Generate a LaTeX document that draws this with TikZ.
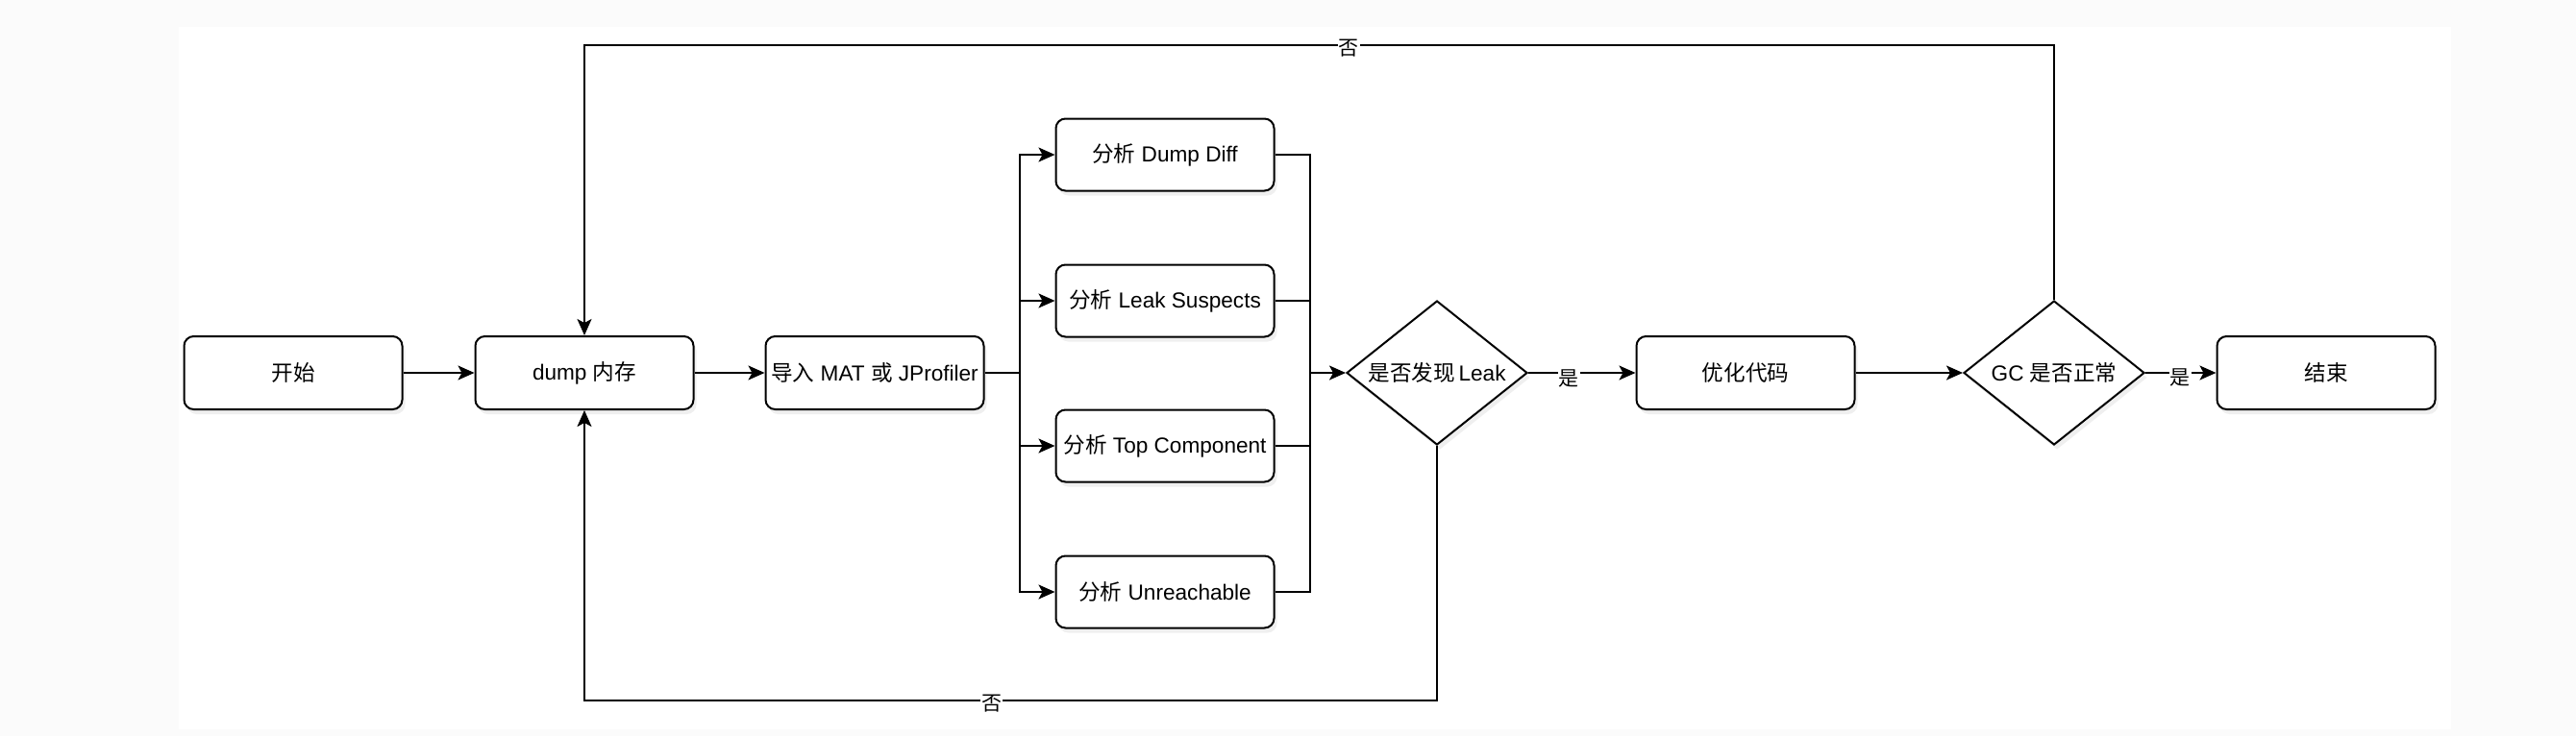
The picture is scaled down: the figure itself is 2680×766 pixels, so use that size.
\documentclass[tikz,border=0pt]{standalone}
\usepackage{fontspec}
\setmainfont{Liberation Sans}
\newfontfamily\cjk{Noto Sans CJK SC}
\usetikzlibrary{shapes.geometric,arrows.meta,shadows}
\definecolor{outerbg}{HTML}{FBFBFB}
\tikzset{
  box/.style={draw=black, line width=2pt, rounded corners=10pt, fill=white,
    minimum width=227pt, minimum height=76pt, inner sep=2pt,
    drop shadow={opacity=0.12, shadow xshift=3pt, shadow yshift=-5pt},
    font=\fontsize{22.6pt}{27pt}\selectfont},
  decision/.style={draw=black, line width=2pt, diamond, fill=white, aspect=1.25,
    minimum width=188pt, minimum height=150pt, inner sep=0pt,
    drop shadow={opacity=0.12, shadow xshift=3pt, shadow yshift=-5pt},
    font=\fontsize{22.6pt}{27pt}\selectfont},
  conn/.style={draw=black, line width=2pt},
  arr/.style={conn, -{Stealth[length=17pt, width=15pt, inset=4pt]}},
  lab/.style={fill=white, inner sep=1pt, font=\fontsize{21pt}{25pt}\cjk}
}
\begin{document}
\begin{tikzpicture}[x=1pt, y=-1pt]
\useasboundingbox (0,0) rectangle (2680,766);
\fill[outerbg] (0,0) rectangle (2680,766);
\fill[white] (186,28) rectangle (2550,759);

\node[box] (start) at (305,388) {{\cjk 开始}};
\node[box] (dump) at (608,388) {dump {\cjk 内存}};
\node[box] (imp) at (910,388) {{\cjk 导入} MAT {\cjk 或} JProfiler};
\node[box, minimum height=75pt] (a1) at (1212,161) {{\cjk 分析} Dump Diff};
\node[box, minimum height=75pt] (a2) at (1212,313) {{\cjk 分析} Leak Suspects};
\node[box, minimum height=75pt] (a3) at (1212,464) {{\cjk 分析} Top Component};
\node[box, minimum height=75pt] (a4) at (1212,616) {{\cjk 分析} Unreachable};
\node[decision] (d1) at (1495,388) {{\cjk 是否发现}\,Leak};
\node[box] (opt) at (1816,388) {{\cjk 优化代码}};
\node[decision] (d2) at (2137,388) {GC {\cjk 是否正常}};
\node[box] (end) at (2420,388) {{\cjk 结束}};

\coordinate (fork) at (1061,388);
\coordinate (merge) at (1363,388);
\coordinate (lowR) at (1495,729);
\coordinate (topR) at (2137,47);

\draw[arr] (start.east) -- (dump.west);
\draw[arr] (dump.east) -- (imp.west);
\draw[conn] (imp.east) -- (fork);
\draw[arr] (fork) |- (a1.west);
\draw[arr] (fork) |- (a2.west);
\draw[arr] (fork) |- (a3.west);
\draw[arr] (fork) |- (a4.west);
\draw[conn] (a1.east) -| (merge);
\draw[conn] (a2.east) -| (merge);
\draw[conn] (a3.east) -| (merge);
\draw[conn] (a4.east) -| (merge);
\draw[arr] (merge) -- (d1.west);
\draw[arr] (d1.east) -- node[lab, pos=0.38, yshift=-6pt] {是} (opt.west);
\draw[arr] (d1.south) -- (lowR) -| node[lab, pos=0.261, yshift=-3pt] {否} (dump.south);
\draw[arr] (opt.east) -- (d2.west);
\draw[arr] (d2.north) -- (topR) -| node[lab, pos=0.24, yshift=-3pt] {否} (dump.north);
\draw[arr] (d2.east) -- node[lab, pos=0.49, yshift=-5pt] {是} (end.west);
\end{tikzpicture}
\end{document}
